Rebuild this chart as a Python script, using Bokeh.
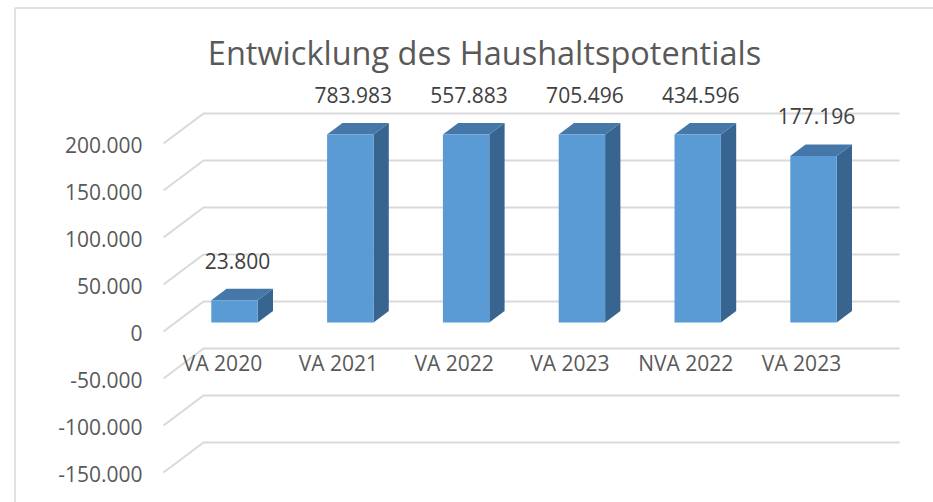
from bokeh.plotting import figure
from bokeh.models import Range1d
from bokeh.core.properties import value
from bokeh.embed import file_html
from bokeh.resources import INLINE

# ---------------- data ----------------
chart_title = "Entwicklung des Haushaltspotentials"
categories = ["VA 2020", "VA 2021", "VA 2022", "VA 2023", "NVA 2022", "VA 2023"]
values = [23800, 783983, 557883, 705496, 434596, 177196]
value_labels = ["23.800", "783.983", "557.883", "705.496", "434.596", "177.196"]
y_ticks = [-150000, -100000, -50000, 0, 50000, 100000, 150000, 200000]
y_tick_labels = ["-150.000", "-100.000", "-50.000", "0", "50.000", "100.000", "150.000", "200.000"]
y_min, y_max = -150000, 200000

# ---------------- layout / style ----------------
W, H = 933, 502
PX_PER_CAT = 115.8          # pixels between categories
PX_PER_VAL = 47.0 / 50000   # pixels per value unit
X0_PX, Y0_PX = 234, 322     # frame pixel of (category 0, value 0) on the bar front plane

def dx(px):
    return px / PX_PER_CAT

def dy(px):  # px positive = downwards on screen
    return -px / PX_PER_VAL

FRONT = "#5B9BD5"
TOP = "#4677A9"
SIDE = "#386590"
GRID = "#D9D9D9"
TXT = "#595959"
FONT = value("Open Sans")

p = figure(width=W, height=H, output_backend="svg", toolbar_location=None,
           x_range=Range1d(-X0_PX / PX_PER_CAT, (W - X0_PX) / PX_PER_CAT),
           y_range=Range1d(-(H - Y0_PX) / PX_PER_VAL, Y0_PX / PX_PER_VAL),
           x_axis_type=None, y_axis_type=None, min_border=0)
p.outline_line_color = None
p.xgrid.visible = False
p.ygrid.visible = False
p.background_fill_color = "white"
p.border_fill_color = "white"

# chart border (top + left visible)
bx = dx(14.5 - X0_PX)
by_top = dy(7.5 - Y0_PX)
p.line([bx, bx, dx(W - X0_PX)], [dy(H - Y0_PX), by_top, by_top], line_color=GRID, line_width=1.5)

# back wall gridlines + left wall diagonals
wall_dx, wall_dy = 28, -21      # back wall offset from bar front plane (px)
wall_left = dx(203 - X0_PX)
wall_right = dx(899 - X0_PX)
gx, gy = [], []
for t in y_ticks:
    yb = t + dy(wall_dy)
    gx.append([wall_left + dx(-40), wall_left, wall_right])
    gy.append([yb + dy(30), yb, yb])
p.multi_line(gx, gy, line_color=GRID, line_width=2)

# y tick labels
lab_x = [wall_left + dx(-40) + dx(-21)] * len(y_ticks)
lab_y = [t + dy(wall_dy) + dy(31.5) for t in y_ticks]
p.text(lab_x, lab_y, text=y_tick_labels, text_font=FONT, text_font_size="21px",
       text_color=TXT, text_align="right", text_baseline="middle")

# bars (3D)
half = dx(23.2)
ddx, ddy = dx(15.3), dy(-11.5)
lefts, rights, tops, bottoms = [], [], [], []
top_xs, top_ys, side_xs, side_ys = [], [], [], []
for i, v in enumerate(values):
    vc = min(max(v, y_min), y_max)
    L, R = i - half, i + half
    lefts.append(L); rights.append(R); tops.append(vc); bottoms.append(0)
    top_xs.append([L, R, R + ddx, L + ddx])
    top_ys.append([vc, vc, vc + ddy, vc + ddy])
    side_xs.append([R, R + ddx, R + ddx, R])
    side_ys.append([0, ddy, vc + ddy, vc])
p.patches(side_xs, side_ys, fill_color=SIDE, line_color=None)
p.patches(top_xs, top_ys, fill_color=TOP, line_color=None)
p.quad(left=lefts, right=rights, top=tops, bottom=bottoms, fill_color=FRONT, line_color=None)

# data labels
dl_x = [i + dx(3) for i in range(len(values))]
dl_y = [min(max(v, y_min), y_max) + ddy + dy(-28) for v in values]
p.text(dl_x, dl_y, text=value_labels, text_font=FONT, text_font_size="21px",
       text_color="#404040", text_align="center", text_baseline="middle")

# category labels
cx = [i + dx(-12) for i in range(len(categories))]
cy = [dy(40)] * len(categories)
p.text(cx, cy, text=categories, text_font=FONT, text_font_size="21px",
       text_color=TXT, text_align="center", text_baseline="middle")

# title
p.text([dx(484 - X0_PX)], [dy(52 - Y0_PX)], text=[chart_title],
       text_font=FONT, text_font_size="32.5px", text_color=TXT,
       text_align="center", text_baseline="middle")

open("out.html", "w").write(file_html(p, INLINE))
